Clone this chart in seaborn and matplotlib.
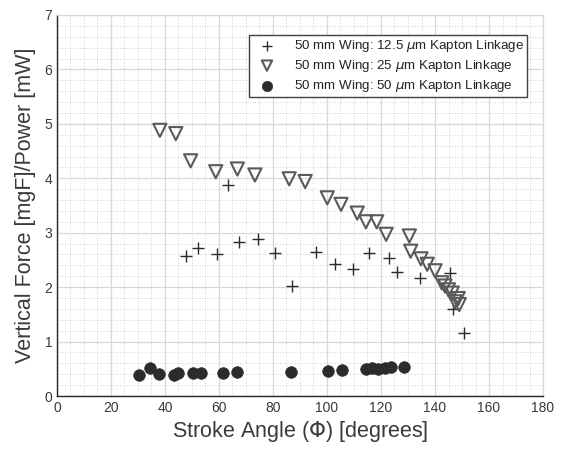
import matplotlib
matplotlib.use("Agg")
import matplotlib.pyplot as plt
import seaborn as sns
from matplotlib.ticker import MultipleLocator

# ---- data ----
x_125 = [47.8, 52.3, 59.1, 63.5, 67.5, 74.6, 80.7, 86.9, 95.9, 103.0, 109.7,
         115.7, 123.0, 125.8, 134.4, 145.4, 146.6, 150.6]
y_125 = [2.57, 2.71, 2.60, 3.87, 2.83, 2.88, 2.63, 2.02, 2.65, 2.42, 2.33,
         2.62, 2.53, 2.27, 2.16, 2.26, 1.59, 1.16]

x_25 = [38.1, 44.0, 49.5, 58.8, 66.8, 73.3, 86.0, 91.9, 100.1, 105.2, 111.2,
        114.4, 118.4, 121.9, 130.5, 131.0, 134.8, 137.1, 140.0, 142.5, 143.7,
        145.0, 146.4, 147.4, 148.6, 149.0]
y_25 = [4.88, 4.82, 4.32, 4.12, 4.17, 4.06, 3.99, 3.94, 3.64, 3.52, 3.36,
        3.20, 3.20, 2.97, 2.94, 2.66, 2.52, 2.42, 2.30, 2.08, 2.02,
        1.95, 1.89, 1.73, 1.79, 1.68]

x_50 = [30.4, 34.4, 37.8, 43.3, 44.9, 50.2, 53.2, 61.6, 66.8, 86.7, 100.2,
        105.7, 114.4, 116.5, 119.0, 121.5, 123.7, 128.5]
y_50 = [0.39, 0.52, 0.40, 0.39, 0.43, 0.43, 0.43, 0.43, 0.45, 0.45, 0.46,
        0.48, 0.50, 0.52, 0.49, 0.52, 0.54, 0.54]

labels = [r"50 mm Wing: 12.5 $\mu$m Kapton Linkage",
          r"50 mm Wing: 25 $\mu$m Kapton Linkage",
          r"50 mm Wing: 50 $\mu$m Kapton Linkage"]
x_ticks = [0, 20, 40, 60, 80, 100, 120, 140, 160, 180]
y_ticks = [0, 1, 2, 3, 4, 5, 6, 7]

sns.set_style("white")
plt.rcParams['font.family'] = ['Liberation Sans', 'DejaVu Sans']
plt.rcParams['mathtext.fontset'] = 'dejavusans'

fig = plt.figure(figsize=(5.62, 4.5), dpi=100)
ax = fig.add_axes([0.1014, 0.12, 0.8648, 0.8467])

txt = "#3a3a3a"
sns.scatterplot(x=x_125, y=y_125, marker="+", s=80, color="#2a2a2a",
                linewidth=1.0, ax=ax, label=labels[0], zorder=3)
sns.scatterplot(x=x_25, y=y_25, marker="v", s=90, facecolor="none",
                edgecolor="#5a5a5a", linewidth=1.5, ax=ax, label=labels[1], zorder=3)
sns.scatterplot(x=x_50, y=y_50, marker="o", s=70, color="#2b2b2b",
                edgecolor="#2b2b2b", linewidth=0.5, ax=ax, label=labels[2], zorder=3)

ax.set_xlim(0, 180)
ax.set_ylim(0, 7)
ax.set_xticks(x_ticks)
ax.set_yticks(y_ticks)
ax.xaxis.set_minor_locator(MultipleLocator(5))
ax.yaxis.set_minor_locator(MultipleLocator(0.2))
ax.grid(True, which="major", color="#d8d8d8", linewidth=0.9, linestyle="-")
ax.grid(True, which="minor", color="#c4c4c4", linewidth=0.6, linestyle=(0, (1, 2)))
ax.set_axisbelow(True)

for s in ["left", "bottom"]:
    ax.spines[s].set_color("#262626")
    ax.spines[s].set_linewidth(1.0)
for s in ["top", "right"]:
    ax.spines[s].set_color("#d8d8d8")
    ax.spines[s].set_linewidth(0.9)

ax.tick_params(axis="both", which="major", direction="in", length=4,
               width=0.8, color="#262626", labelsize=10, labelcolor=txt,
               top=False, right=False)
ax.tick_params(axis="both", which="minor", length=0)

ax.set_xlabel(r"Stroke Angle ($\Phi$) [degrees]", fontsize=15.5, color=txt, labelpad=3)
ax.set_ylabel("Vertical Force [mgF]/Power [mW]", fontsize=15.5, color=txt, labelpad=6)

leg = ax.legend(loc="upper right", bbox_to_anchor=(0.967, 0.948), fontsize=9.6,
                frameon=True, fancybox=False, edgecolor="#404040",
                framealpha=1.0, borderpad=0.25, labelspacing=0.3,
                handletextpad=0.9, handlelength=2.2, borderaxespad=0)
leg.get_frame().set_linewidth(1.0)
for t in leg.get_texts():
    t.set_color("#222222")
for h, sz in zip(leg.legend_handles, [55, 55, 55]):
    h.set_sizes([sz])

fig.savefig("out.png", dpi=100)
